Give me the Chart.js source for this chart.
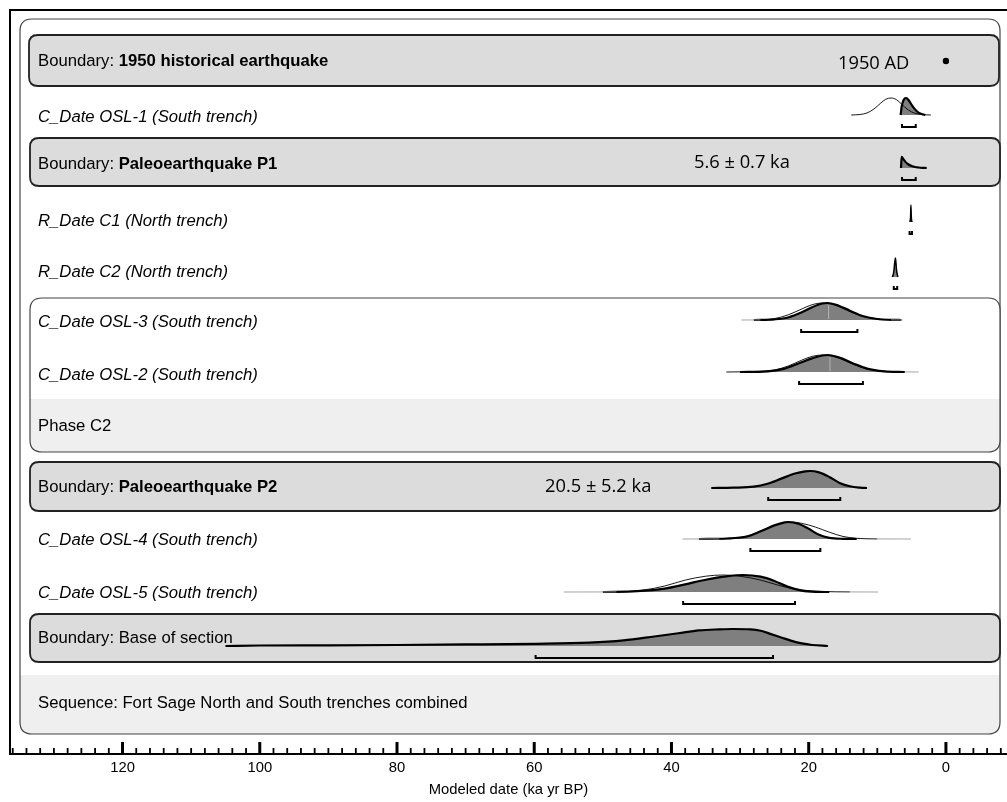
<!DOCTYPE html>
<html><head><meta charset="utf-8">
<script src="https://cdn.jsdelivr.net/npm/chart.js@4/dist/chart.umd.min.js"></script>
<style>html,body{margin:0;padding:0;background:#fff;overflow:hidden}canvas{display:block}</style>
</head><body><canvas id="c" width="1007" height="802" style="width:1007px;height:802px"></canvas>
<script>
// ---------- DATA ----------
const itemNames = ['1950 historical earthquake','C_Date OSL-1 (South trench)','Paleoearthquake P1','R_Date C1 (North trench)','R_Date C2 (North trench)','C_Date OSL-3 (South trench)','C_Date OSL-2 (South trench)','Paleoearthquake P2','C_Date OSL-4 (South trench)','C_Date OSL-5 (South trench)','Base of section'];
const itemKinds = ['boundaryBold','date','boundaryBold','date','date','date','date','boundaryBold','date','date','boundary'];
const phaseName = 'Phase C2';
const sequenceName = 'Sequence: Fort Sage North and South trenches combined';
const xTickLabels = [120, 100, 80, 60, 40, 20, 0];
const axisTitle = 'Modeled date (ka yr BP)';
const annotTexts = ['1950 AD', '5.6 \u00b1 0.7 ka', '20.5 \u00b1 5.2 ka'];

// point date (ka BP)
const point1950 = 0;

// [ka, relative density]
const likeOSL1 = [[13.8,0],[12.5,0.03],[11.5,0.12],[10.5,0.35],[9.5,0.7],[8.8,0.92],[8,1],[7.2,0.9],[6.5,0.65],[5.5,0.3],[4.5,0.1],[3.5,0.03],[2.2,0]];
const postOSL1 = [[6.6,0],[6.45,0.5],[6.15,0.9],[5.8,1],[5.4,0.85],[5,0.6],[4.5,0.33],[4,0.14],[3.5,0.05],[3,0]];
const postP1 = [[6.55,0],[6.45,0.65],[6.2,0.52],[5.9,0.36],[5.5,0.22],[5,0.12],[4.5,0.06],[4,0.03],[3.5,0.01],[2.8,0]];
const postC1 = [[5.25,0],[5.15,0.3],[5.1,1],[5.05,0.3],[4.95,0]];
const postC2 = [[7.8,0],[7.6,0.3],[7.45,0.9],[7.35,1.12],[7.2,0.4],[7.0,0]];
const likeOSL3 = [[29.8,0],[27,0.005],[25,0.08],[23,0.3],[21,0.65],[19.5,0.9],[18,1],[17,0.98],[16,0.85],[14,0.5],[12,0.2],[10,0.06],[8,0.005],[6.3,0]];
const postOSL3 = [[28,0],[25,0.04],[23,0.15],[21,0.45],[19.5,0.75],[18,0.97],[17.3,1],[16,0.9],[14,0.55],[12,0.22],[10,0.06],[8,0.01],[6.5,0]];
const likeOSL2 = [[32,0],[28,0.03],[25,0.12],[23,0.35],[21,0.7],[19.5,0.92],[18,1],[17,0.97],[15.5,0.8],[13.5,0.45],[11.5,0.18],[9,0.04],[6,0.005],[4,0]];
const postOSL2 = [[30,0],[26,0.04],[23.5,0.2],[21.5,0.5],[19.5,0.8],[18,0.97],[17.2,1],[15.5,0.85],[13.5,0.5],[11.5,0.2],[9,0.04],[6,0]];
const postP2 = [[34.2,0],[31,0.02],[28,0.08],[26,0.25],[24,0.55],[22,0.85],[20.5,0.98],[19.8,1],[18.5,0.92],[17,0.65],[15.5,0.3],[14,0.1],[12.5,0.02],[11.5,0]];
const likeOSL4 = [[38.4,0],[33,0.005],[30,0.08],[28,0.3],[26,0.65],[24,0.93],[22.5,1],[21,0.92],[19,0.7],[17,0.4],[15,0.15],[13,0.04],[10,0.005],[5.1,0]];
const postOSL4 = [[36,0],[32,0.03],[29,0.15],[27,0.45],[25,0.8],[23.5,0.98],[23,1],[21.5,0.9],[20,0.6],[18.5,0.25],[17,0.07],[15,0.01],[13,0]];
const likeOSL5 = [[55.7,0],[48,0.005],[44,0.12],[41,0.35],[38,0.7],[35,0.93],[32.5,1],[30,0.93],[27,0.7],[24,0.35],[21,0.12],[18,0.03],[14,0.005],[9.9,0]];
const postOSL5 = [[50,0],[45,0.05],[41,0.2],[38,0.45],[35,0.72],[32,0.92],[29.5,1],[27,0.9],[25,0.65],[23,0.3],[21,0.08],[19,0.01],[17,0]];
const postBase = [[105,0],[100,0.03],[90,0.04],[80,0.06],[70,0.09],[60,0.13],[52,0.2],[47,0.33],[42.5,0.56],[39,0.75],[36,0.92],[33,0.98],[31,1],[28.5,0.98],[27,0.9],[25.5,0.7],[24,0.5],[22.5,0.3],[21,0.15],[19.5,0.06],[17.2,0]];

// 95% ranges [older, younger] ka
const rangeOSL1 = [6.4, 4.4];
const rangeP1 = [6.4, 4.4];
const rangeC1 = [5.3, 4.95];
const rangeC2 = [7.6, 7.1];
const rangeOSL3 = [21.1, 12.9];
const rangeOSL2 = [21.4, 12.1];
const rangeP2 = [25.9, 15.4];
const rangeOSL4 = [28.5, 18.3];
const rangeOSL5 = [38.3, 22.0];
const rangeBase = [59.8, 25.2];

// median markers (ka)
const medianOSL3 = 17.1;
const medianOSL2 = 16.9;

// ---------- LAYOUT (pixels; y scale is set up in page pixels) ----------
const rowBase = [61, 115, 168, 222, 277, 320, 372, 488, 539, 592, 646];
const rowText = [61, 117, 164, 221, 272, 322, 375, 487, 540, 593, 638];
const peakH = 17, bracketDrop = 12, bracketTick = 3;

const likes = [null, likeOSL1, null, null, null, likeOSL3, likeOSL2, null, likeOSL4, likeOSL5, null];
const posts = [null, postOSL1, postP1, postC1, postC2, postOSL3, postOSL2, postP2, postOSL4, postOSL5, postBase];
const ranges = [null, rangeOSL1, rangeP1, rangeC1, rangeC2, rangeOSL3, rangeOSL2, rangeP2, rangeOSL4, rangeOSL5, rangeBase];
const medians = [null, null, null, null, null, medianOSL3, medianOSL2, null, null, null, null];

const FONT = '"Liberation Sans", Arial, Helvetica, sans-serif';
const LFS = 16.7;
const datasets = [];
function toPts(arr, base) { return arr.map(([x, r]) => ({x: x, y: base - r * peakH})); }
for (let i = 0; i < itemNames.length; i++) {
  const b = rowBase[i];
  if (posts[i]) {
    datasets.push({data: toPts(posts[i], b), borderColor:'#000', borderWidth: (i===3||i===4)?1.5:2.2,
      backgroundColor:'#7f7f7f', fill:{value:b}, pointRadius:0, cubicInterpolationMode:'monotone', order:3});
  }
  if (medians[i] !== null) {
    datasets.push({data:[{x:medians[i], y:b-1}, {x:medians[i], y:b - peakH + 2}], borderColor:'#b5b5b5', borderWidth:1,
      fill:false, pointRadius:0, tension:0, order:2});
  }
  if (likes[i]) {
    const rs = likes[i].map(p => p[1]);
    datasets.push({data: toPts(likes[i], b), borderColor:'#000', borderWidth:0.9, fill:false,
      pointRadius:0, cubicInterpolationMode:'monotone', order:1,
      segment: {borderColor: (c) => (rs[c.p0DataIndex] < 0.01 && rs[c.p1DataIndex] < 0.01) ? '#9a9a9a' : undefined}});
  }
  if (ranges[i]) {
    const [a, c] = ranges[i]; const y = b + bracketDrop;
    datasets.push({data:[{x:a,y:y-bracketTick},{x:a,y:y},{x:c,y:y},{x:c,y:y-bracketTick}], borderColor:'#000',
      borderWidth:2, fill:false, pointRadius:0, tension:0, order:0});
  }
}
datasets.push({data:[{x:point1950, y:rowBase[0]}], showLine:false, pointRadius:3.2, pointBorderWidth:0, pointBackgroundColor:'#000', pointBorderColor:'#000', order:0});

function rr(ctx, x0, y0, x1, y1, r) {
  ctx.beginPath();
  ctx.moveTo(x0 + r, y0); ctx.lineTo(x1 - r, y0); ctx.quadraticCurveTo(x1, y0, x1, y0 + r);
  ctx.lineTo(x1, y1 - r); ctx.quadraticCurveTo(x1, y1, x1 - r, y1); ctx.lineTo(x0 + r, y1);
  ctx.quadraticCurveTo(x0, y1, x0, y1 - r); ctx.lineTo(x0, y0 + r); ctx.quadraticCurveTo(x0, y0, x0 + r, y0);
  ctx.closePath();
}

const frame = {
  id: 'oxcalFrame',
  beforeDatasetsDraw(chart) {
    const ctx = chart.ctx; ctx.save();
    // sequence box
    rr(ctx, 20, 19, 1000, 734, 12); ctx.fillStyle = '#fff'; ctx.fill();
    ctx.save(); rr(ctx, 20, 19, 1000, 734, 12); ctx.clip(); ctx.fillStyle = '#efefef'; ctx.fillRect(20, 675, 980, 60); ctx.restore();
    rr(ctx, 20, 19, 1000, 734, 12); ctx.strokeStyle = '#444'; ctx.lineWidth = 1.2; ctx.stroke();
    // phase box
    rr(ctx, 30, 298, 1000, 452, 12); ctx.fillStyle = '#fff'; ctx.fill();
    ctx.save(); rr(ctx, 30, 298, 1000, 452, 12); ctx.clip(); ctx.fillStyle = '#efefef'; ctx.fillRect(30, 399, 970, 54); ctx.restore();
    rr(ctx, 30, 298, 1000, 452, 12); ctx.strokeStyle = '#444'; ctx.lineWidth = 1.2; ctx.stroke();
    // boundary boxes
    const boxes = {0:[29,35,999,86], 2:[30,138,1000,186], 7:[30,462,1000,511], 10:[30,614,1000,662]};
    for (const k in boxes) {
      const [x0,y0,x1,y1] = boxes[k];
      rr(ctx, x0, y0, x1, y1, 9); ctx.fillStyle = '#dcdcdc'; ctx.fill();
      ctx.strokeStyle = '#222'; ctx.lineWidth = 1.8; ctx.stroke();
    }
    // labels
    ctx.fillStyle = '#000'; ctx.textBaseline = 'middle'; ctx.textAlign = 'left';
    for (let i = 0; i < itemNames.length; i++) {
      const y = rowText[i];
      if (itemKinds[i] === 'date') {
        ctx.font = 'italic ' + LFS + 'px ' + FONT; ctx.fillText(itemNames[i], 38, y);
      } else {
        ctx.font = LFS + 'px ' + FONT; const p = 'Boundary: '; ctx.fillText(p, 38, y);
        const w = ctx.measureText(p).width;
        ctx.font = (itemKinds[i] === 'boundaryBold' ? 'bold ' : '') + LFS + 'px ' + FONT;
        ctx.fillText(itemNames[i], 38 + w, y);
      }
    }
    ctx.font = LFS + 'px ' + FONT;
    ctx.fillText(phaseName, 38, 426);
    ctx.fillText(sequenceName, 38, 703);
    // annotations
    ctx.font = '18.3px "Open Sans", Lato, sans-serif';
    ctx.fillText(annotTexts[0], 838, 64);
    ctx.fillText(annotTexts[1], 694, 163);
    ctx.fillText(annotTexts[2], 545, 487);
    ctx.restore();
  },
  afterDraw(chart) {
    const ctx = chart.ctx, ca = chart.chartArea, sx = chart.scales.x;
    ctx.save(); ctx.strokeStyle = '#000';
    for (const t of sx.ticks) {
      const v = t.value; const x = sx.getPixelForValue(v);
      const major = Math.abs(Math.round(v) % 20) === 0 && Math.abs(v - Math.round(v)) < 1e-6;
      ctx.lineWidth = major ? 3 : 1.8;
      ctx.beginPath(); ctx.moveTo(x, ca.bottom); ctx.lineTo(x, ca.bottom - (major ? 12 : 6)); ctx.stroke();
    }
    ctx.lineWidth = 2;
    ctx.beginPath(); ctx.moveTo(ca.left, ca.bottom); ctx.lineTo(ca.left, ca.top); ctx.lineTo(chart.width, ca.top); ctx.stroke();
    ctx.restore();
  }
};

new Chart(document.getElementById('c'), {
  type: 'line',
  data: {datasets},
  options: {
    responsive: false, animation: false, devicePixelRatio: 1,
    layout: {autoPadding: false, padding: {top: 10, left: 10, right: 0, bottom: 0}},
    plugins: {legend: {display: false}, tooltip: {enabled: false}},
    scales: {
      x: {type: 'linear', reverse: true, min: -8.9, max: 136.4,
        afterFit: (s) => { s.height = 48; s.paddingRight = 0; s.paddingLeft = 0; },
        grid: {display: true, drawOnChartArea: false, drawTicks: false},
        border: {display: true, color: '#000', width: 2},
        ticks: {stepSize: 2, autoSkip: false, maxRotation: 0, includeBounds: false, padding: 5, color: '#000',
          font: {family: FONT, size: 14.8},
          callback: (v) => { const r = Math.round(v); return (Math.abs(v - r) < 1e-6 && xTickLabels.includes(r)) ? String(r) : ''; }},
        title: {display: true, text: axisTitle, color: '#000', font: {family: FONT, size: 14.8}, padding: {top: 2, bottom: 3}}
      },
      y: {type: 'linear', reverse: true, min: 10, max: 754, display: false}
    }
  },
  plugins: [frame]
});
</script></body></html>
